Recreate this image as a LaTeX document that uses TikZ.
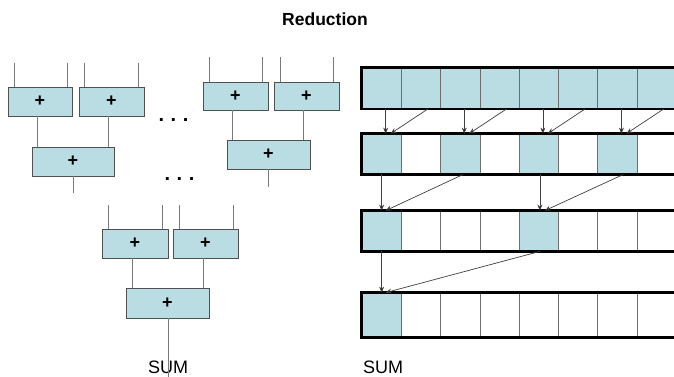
\documentclass[tikz,border=0pt]{standalone}
\usepackage{fontspec}
\setmainfont{Liberation Sans}
\usetikzlibrary{arrows.meta}
\definecolor{boxfill}{HTML}{B9DDE3}
\definecolor{boxline}{HTML}{505050}
\definecolor{wire}{HTML}{7A7A7A}
\definecolor{cellline}{HTML}{6E6E6E}
\tikzset{
  addbox/.style={draw=boxline, line width=0.9pt, fill=boxfill, inner sep=0pt,
    font=\fontsize{18}{18}\selectfont\bfseries},
  wireline/.style={draw=wire, line width=1pt},
  cellbox/.style={draw=cellline, line width=0.8pt, minimum width=39.3pt, inner sep=0pt},
  fullcell/.style={cellbox, fill=boxfill},
  emptycell/.style={cellbox, fill=white},
  arrayframe/.style={draw=black, line width=2.6pt},
  redarrow/.style={draw=black!75, line width=0.7pt, -{Stealth[length=6pt,width=5pt,fill=black]}},
  lbl/.style={font=\fontsize{18}{18}\selectfont, inner sep=0pt},
  dots/.style={font=\fontsize{20}{20}\selectfont\bfseries, inner sep=0pt}
}
\begin{document}
\begin{tikzpicture}[x=1pt,y=-1pt]
\useasboundingbox (0,0) rectangle (674,376);
\clip (0,0) rectangle (674,376);
\fill[white] (0,0) rectangle (674,376);

% title
\node[font=\fontsize{17.5}{17.5}\selectfont\bfseries, inner sep=0pt] (title) at (325,19) {Reduction};

% ---------- left: adder tree ----------
\node[addbox, minimum width=64pt, minimum height=29pt] (A) at (40,101.5) {+};
\node[addbox, minimum width=65pt, minimum height=29pt] (B) at (111.5,101.5) {+};
\node[addbox, minimum width=82pt, minimum height=29pt] (C) at (73,161.5) {+};
\node[addbox, minimum width=65pt, minimum height=28pt] (D) at (235.5,96) {+};
\node[addbox, minimum width=65pt, minimum height=28pt] (E) at (306.5,96) {+};
\node[addbox, minimum width=83pt, minimum height=29pt] (F) at (268.5,154.5) {+};
\node[addbox, minimum width=66pt, minimum height=29pt] (G) at (135,243.5) {+};
\node[addbox, minimum width=65pt, minimum height=29pt] (H) at (205.5,243.5) {+};
\node[addbox, minimum width=83pt, minimum height=30pt] (I) at (167.5,303) {+};

% input wire tops
\coordinate (a1) at (14,63);  \coordinate (a2) at (67,63);
\coordinate (b1) at (84,63);  \coordinate (b2) at (138,63);
\coordinate (d1) at (209,57); \coordinate (d2) at (262,57);
\coordinate (e1) at (280,57); \coordinate (e2) at (333,57);
\coordinate (g1) at (108,205); \coordinate (g2) at (162,205);
\coordinate (h1) at (179,205); \coordinate (h2) at (233,205);
\foreach \c/\n in {a1/A,a2/A,b1/B,b2/B,d1/D,d2/D,e1/E,e2/E,g1/G,g2/G,h1/H,h2/H}
  \draw[wireline] (\c) -- (\c |- \n.north);

% inner connections
\draw[wireline] ([xshift=-3pt]A.south) -- ([xshift=-3pt]A.south |- C.north);
\draw[wireline] ([xshift=-3pt]B.south) -- ([xshift=-3pt]B.south |- C.north);
\draw[wireline] ([xshift=-3pt]D.south) -- ([xshift=-3pt]D.south |- F.north);
\draw[wireline] ([xshift=-3pt]E.south) -- ([xshift=-3pt]E.south |- F.north);
\draw[wireline] ([xshift=-3pt]G.south) -- ([xshift=-3pt]G.south |- I.north);
\draw[wireline] ([xshift=-2pt]H.south) -- ([xshift=-2pt]H.south |- I.north);

% outputs
\coordinate (cout) at (73,193);
\coordinate (fout) at (268,187);
\draw[wireline] (C.south -| cout) -- (cout);
\draw[wireline] (F.south -| fout) -- (fout);
\node[lbl, anchor=center] (sumL) at (168,367) {SUM};
\draw[wireline] (I.south -| sumL) -- ([yshift=-14pt]sumL.center);

% dots
\node[dots] (dots1) at (173.5,120) {.\,\,.\,\,.};
\node[dots] (dots2) at (179.5,179) {.\,\,.\,\,.};

% ---------- right: array reduction ----------
% row 1: all full
\foreach \i in {0,...,8}
  \node[fullcell, minimum height=40.5pt] (r1c\i) at ({381.65+39.3*\i},88.25) {};
% row 2: even full
\foreach \i in {0,...,8}{
  \pgfmathparse{int(mod(\i,2))}
  \ifnum\pgfmathresult=0
    \node[fullcell, minimum height=40pt] (r2c\i) at ({381.65+39.3*\i},154) {};
  \else
    \node[emptycell, minimum height=40pt] (r2c\i) at ({381.65+39.3*\i},154) {};
  \fi}
% row 3: 0 and 4 full
\foreach \i in {0,...,8}{
  \pgfmathparse{int(mod(\i,4))}
  \ifnum\pgfmathresult=0
    \node[fullcell, minimum height=40pt] (r3c\i) at ({381.65+39.3*\i},231) {};
  \else
    \node[emptycell, minimum height=40pt] (r3c\i) at ({381.65+39.3*\i},231) {};
  \fi}
% row 4: 0 full
\foreach \i in {0,...,8}{
  \ifnum\i=0
    \node[fullcell, minimum height=44pt] (r4c\i) at ({381.65+39.3*\i},315) {};
  \else
    \node[emptycell, minimum height=44pt] (r4c\i) at ({381.65+39.3*\i},315) {};
  \fi}
% thick frames (right side runs past the picture edge)
\foreach \r in {1,2,3,4}
  \draw[arrayframe] (r\r c8.north east) -| (r\r c0.south west) -- (r\r c8.south east);

% arrows row1 -> row2
\foreach \a/\b in {0/1,2/3,4/5,6/7}{
  \draw[redarrow] ([xshift=4pt]r1c\a.south) -- ([xshift=4pt]r2c\a.north);
  \draw[redarrow] ([xshift=7pt]r1c\b.south) -- ([xshift=9pt]r2c\a.north);
}
% arrows row2 -> row3
\draw[redarrow] (r2c0.south) -- (r3c0.north);
\draw[redarrow] ([xshift=3pt]r2c2.south) -- ([xshift=4pt]r3c0.north);
\draw[redarrow] ([xshift=1pt]r2c4.south) -- ([xshift=1pt]r3c4.north);
\draw[redarrow] ([xshift=6pt]r2c6.south) -- ([xshift=6pt]r3c4.north);
% arrows row3 -> row4
\draw[redarrow] (r3c0.south) -- (r4c0.north);
\draw[redarrow] ([xshift=1pt]r3c4.south) -- ([xshift=4pt]r4c0.north);

\node[lbl] (sumR) at (383,367) {SUM};
\end{tikzpicture}
\end{document}
